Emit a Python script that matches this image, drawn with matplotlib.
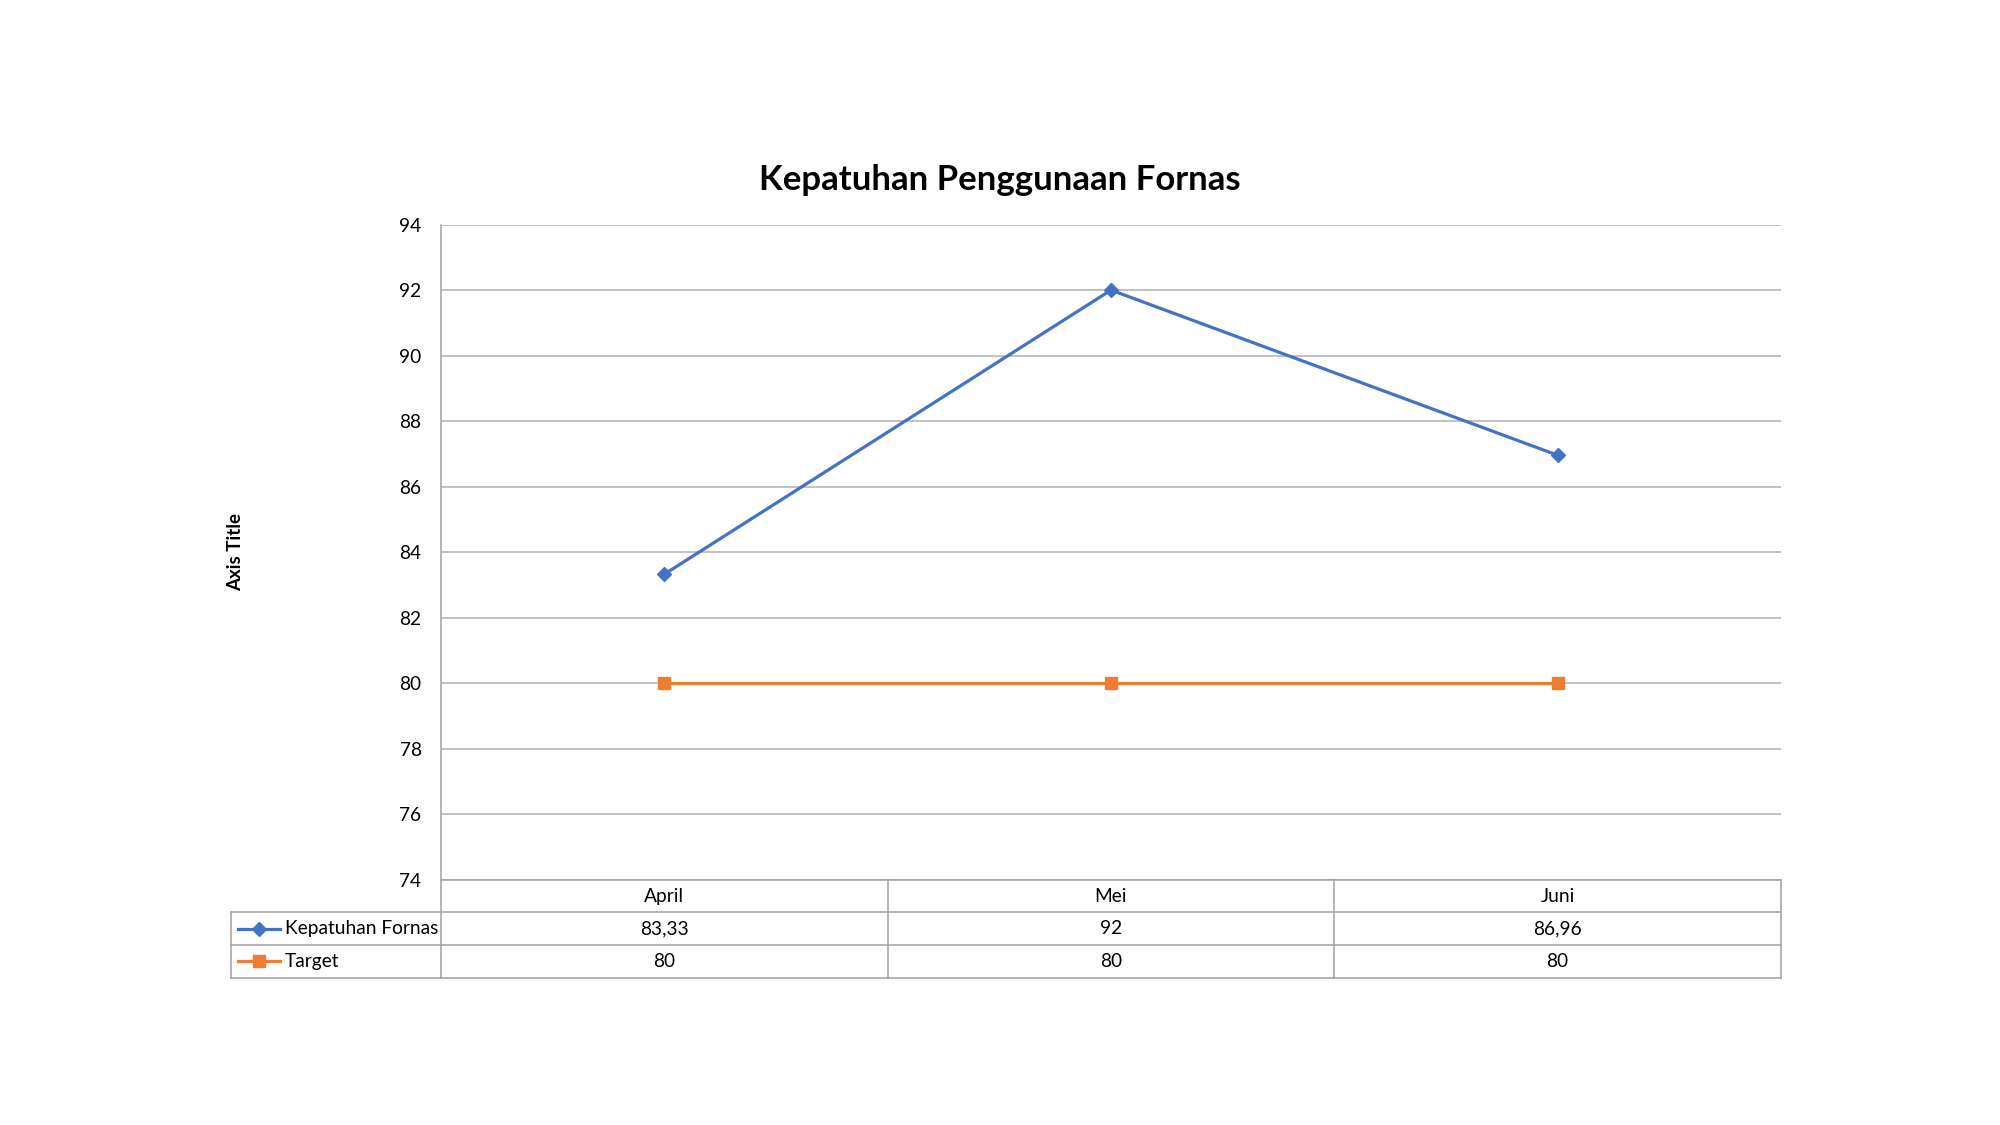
import matplotlib.pyplot as plt
from matplotlib.transforms import blended_transform_factory
from matplotlib.lines import Line2D

months = ['April', 'Mei', 'Juni']
kepatuhan = [83.33, 92, 86.96]
target = [80, 80, 80]
kepatuhan_labels = ['83,33', '92', '86,96']
target_labels = ['80', '80', '80']
series_names = ['Kepatuhan Fornas', 'Target']

plt.rcParams['font.family'] = ['Lato', 'DejaVu Sans']

fig = plt.figure(figsize=(20, 11.25), dpi=100)
ax = fig.add_axes([0.2205, 0.2178, 0.67, 0.5826])

blue = '#4472C4'
orange = '#ED7D31'
grid_c = '#b0b0b0'
border_c = '#a0a0a0'
fs = 13.8

x = list(range(len(months)))
ax.plot(x, kepatuhan, color=blue, lw=2.3, marker='D', ms=7, zorder=3)
ax.plot(x, target, color=orange, lw=2.3, marker='s', ms=8, zorder=3)

ax.set_xlim(-0.5, len(months) - 0.5)
ax.set_ylim(74, 94)
ax.set_yticks(range(74, 95, 2))
ax.yaxis.grid(True, color=grid_c, lw=1.1)
ax.set_axisbelow(True)
ax.set_xticks([])
ax.tick_params(axis='y', length=0, pad=14, labelsize=fs)
for s in ['top', 'right', 'bottom']:
    ax.spines[s].set_visible(False)
ax.spines['left'].set_color(border_c)
ax.spines['left'].set_linewidth(1.1)

fig.text(0.5, 0.8400, 'Kepatuhan Penggunaan Fornas', fontsize=25, fontweight='bold',
         ha='center', va='center')
fig.text(0.118, 0.509, 'Axis Title', rotation=90, fontsize=13.5, fontweight='bold',
         ha='center', va='center')

# data table below the plot
tr = blended_transform_factory(ax.transData, ax.transAxes)
rh = 0.0496
leg_left = -0.5 - 3 * 0.1567
kw = dict(color=border_c, lw=1.1, clip_on=False, transform=tr)
ax.add_line(Line2D([-0.5, 2.5], [0, 0], **kw))
for i in (1, 2, 3):
    ax.add_line(Line2D([leg_left, 2.5], [-i * rh, -i * rh], **kw))
ax.add_line(Line2D([leg_left, leg_left], [-rh, -3 * rh], **kw))
for xv in (-0.5, 0.5, 1.5, 2.5):
    ax.add_line(Line2D([xv, xv], [0, -3 * rh], **kw))

for i, m in enumerate(months):
    ax.text(i, -0.5 * rh, m, transform=tr, ha='center', va='center', fontsize=fs)
    ax.text(i, -1.5 * rh, kepatuhan_labels[i], transform=tr, ha='center', va='center', fontsize=fs)
    ax.text(i, -2.5 * rh, target_labels[i], transform=tr, ha='center', va='center', fontsize=fs)

# legend keys in table
for row, (name, c, mk, ms) in enumerate(zip(series_names, [blue, orange], ['D', 's'], [7, 8])):
    y = -(row + 1.5) * rh
    ax.add_line(Line2D([leg_left + 0.015, leg_left + 0.11], [y, y], color=c, lw=2.3,
                       clip_on=False, transform=tr))
    ax.add_line(Line2D([leg_left + 0.0625], [y], color=c, marker=mk, ms=ms,
                       clip_on=False, transform=tr))
    ax.text(leg_left + 0.12, y, name, transform=tr, ha='left', va='center', fontsize=fs)

fig.savefig('out.png', dpi=100, facecolor='white')
